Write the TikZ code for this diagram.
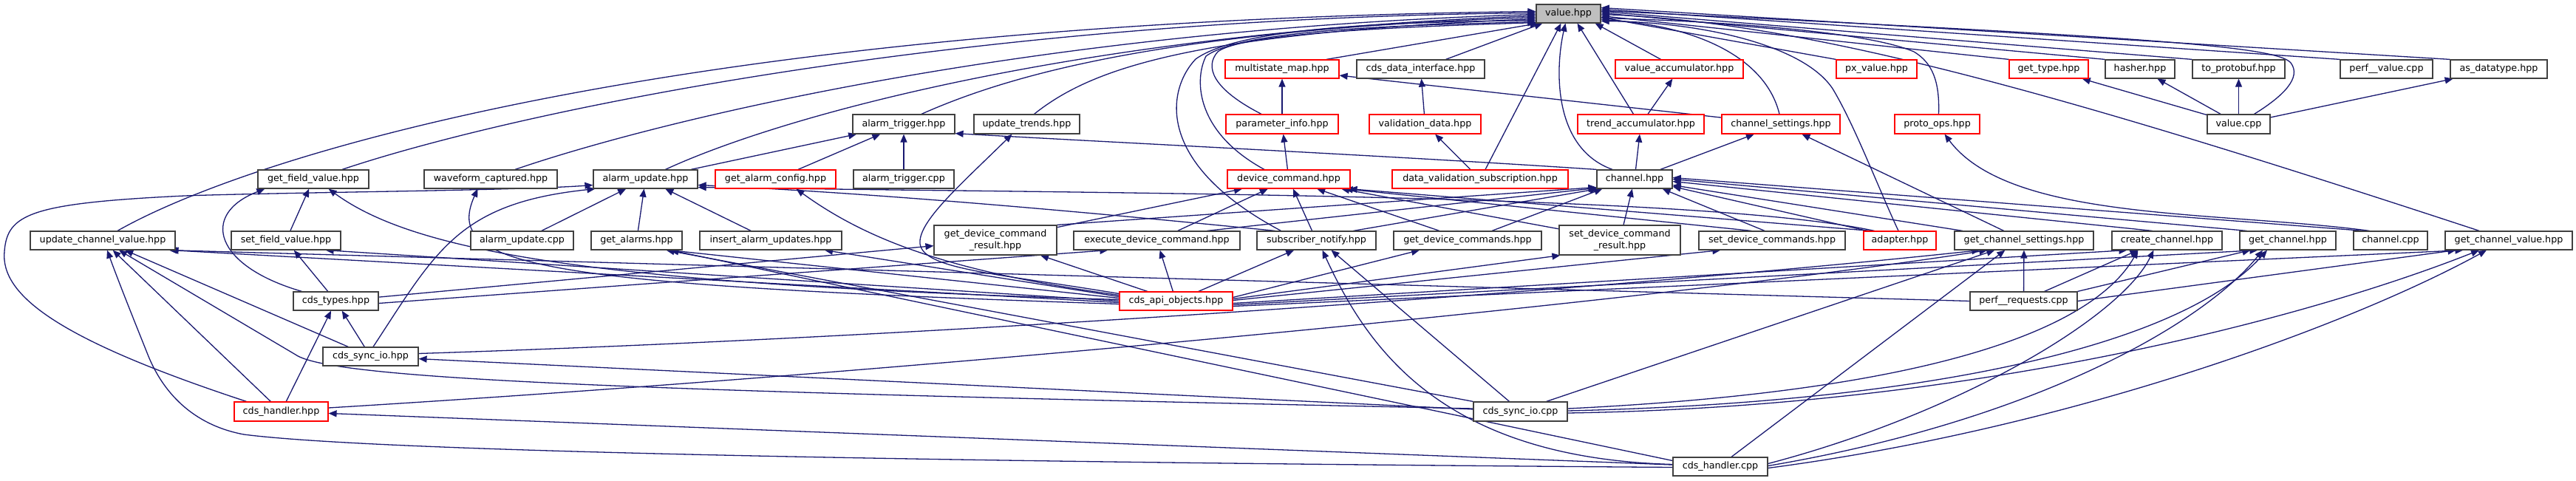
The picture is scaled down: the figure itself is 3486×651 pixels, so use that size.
\documentclass[tikz,border=0pt]{standalone}
\usepackage{fontspec}
\setmainfont{DejaVu Sans}
\usetikzlibrary{arrows.meta,calc,backgrounds}
\definecolor{eb}{RGB}{25,25,112}
\newcommand\ndf{\fontsize{6.35pt}{7.85pt}\selectfont}
\newcommand\nd[7]{\node[#7, minimum width={(#3-#2)*0.5pt}, minimum height={(#5-#4)*0.5pt}] (#1) at ({(#2+#3)/2},{(#4+#5)/2}) {#6};}
\begin{document}
\begin{tikzpicture}[x=0.5pt,y=-0.5pt,
  nb/.style={draw=black!75, fill=white, line width=0.6pt, inner sep=0pt, font=\ndf, align=center, text=black},
  nr/.style={nb, draw=red},
  ng/.style={nb, fill=black!25},
  e/.style={draw=eb, line width=0.65pt, -{Triangle[length=5.5pt,width=4.5pt]}}]
\useasboundingbox (0,0) rectangle (3486,651);
% row 0
\nd{V}{2079}{2166}{6}{31}{value.hpp}{ng}
% row 1
\nd{msm}{1658}{1812}{81}{106}{multistate\_map.hpp}{nr}
\nd{cdi}{1836}{2009}{81}{106}{cds\_data\_interface.hpp}{nb}
\nd{vacc}{2186}{2359}{81}{106}{value\_accumulator.hpp}{nr}
\nd{pxv}{2485}{2594}{81}{106}{px\_value.hpp}{nr}
\nd{gt}{2719}{2826}{81}{106}{get\_type.hpp}{nr}
\nd{hsh}{2849}{2943}{81}{106}{hasher.hpp}{nb}
\nd{tpb}{2967}{3092}{81}{106}{to\_protobuf.hpp}{nb}
\nd{pvc}{3167}{3292}{81}{106}{perf\_\_value.cpp}{nb}
\nd{asd}{3316}{3447}{81}{106}{as\_datatype.hpp}{nb}
% row 2
\nd{at}{1154}{1292}{155}{181}{alarm\_trigger.hpp}{nb}
\nd{ut}{1318}{1461}{155}{181}{update\_trends.hpp}{nb}
\nd{pi}{1659}{1811}{155}{181}{parameter\_info.hpp}{nr}
\nd{vd}{1853}{2004}{155}{181}{validation\_data.hpp}{nr}
\nd{ta}{2135}{2306}{155}{181}{trend\_accumulator.hpp}{nr}
\nd{cs}{2330}{2490}{155}{181}{channel\_settings.hpp}{nr}
\nd{po}{2564}{2679}{155}{181}{proto\_ops.hpp}{nr}
\nd{vcpp}{2987}{3072}{155}{181}{value.cpp}{nb}
% row 3
\nd{gfv}{349}{499}{230}{255}{get\_field\_value.hpp}{nb}
\nd{wc}{574}{754}{230}{255}{waveform\_captured.hpp}{nb}
\nd{au}{803}{944}{230}{255}{alarm\_update.hpp}{nb}
\nd{gac}{968}{1131}{230}{255}{get\_alarm\_config.hpp}{nr}
\nd{atc}{1155}{1291}{230}{255}{alarm\_trigger.cpp}{nb}
\nd{dc}{1661}{1827}{230}{255}{device\_command.hpp}{nr}
\nd{dvs}{1884}{2122}{230}{255}{data\_validation\_subscription.hpp}{nr}
\nd{ch}{2161}{2263}{230}{255}{channel.hpp}{nb}
% row 4
\nd{ucv}{41}{237}{313}{338}{update\_channel\_value.hpp}{nb}
\nd{sfv}{313}{461}{313}{338}{set\_field\_value.hpp}{nb}
\nd{aucpp}{637}{776}{313}{338}{alarm\_update.cpp}{nb}
\nd{ga}{800}{923}{313}{338}{get\_alarms.hpp}{nb}
\nd{iau}{947}{1139}{313}{338}{insert\_alarm\_updates.hpp}{nb}
\nd{gdcr}{1264}{1430}{305}{345}{get\_device\_command\\\_result.hpp}{nb}
\nd{edc}{1453}{1678}{313}{338}{execute\_device\_command.hpp}{nb}
\nd{sn}{1701}{1862}{313}{338}{subscriber\_notify.hpp}{nb}
\nd{gdcs}{1886}{2086}{313}{338}{get\_device\_commands.hpp}{nb}
\nd{sdcr}{2110}{2274}{305}{345}{set\_device\_command\\\_result.hpp}{nb}
\nd{sdcs}{2299}{2497}{313}{338}{set\_device\_commands.hpp}{nb}
\nd{ad}{2522}{2620}{313}{338}{adapter.hpp}{nr}
\nd{gcs}{2645}{2833}{313}{338}{get\_channel\_settings.hpp}{nb}
\nd{cc}{2858}{3007}{313}{338}{create\_channel.hpp}{nb}
\nd{gc}{3031}{3161}{313}{338}{get\_channel.hpp}{nb}
\nd{chcpp}{3185}{3285}{313}{338}{channel.cpp}{nb}
\nd{gcv}{3309}{3481}{313}{338}{get\_channel\_value.hpp}{nb}
% rows 5-8
\nd{ct}{397}{512}{395}{420}{cds\_types.hpp}{nb}
\nd{cao}{1515}{1668}{395}{420}{cds\_api\_objects.hpp}{nr}
\nd{pr}{2666}{2811}{395}{420}{perf\_\_requests.cpp}{nb}
\nd{csh}{437}{566}{470}{495}{cds\_sync\_io.hpp}{nb}
\nd{chh}{317}{444}{544}{570}{cds\_handler.hpp}{nr}
\nd{csc}{1994}{2121}{544}{570}{cds\_sync\_io.cpp}{nb}
\nd{chc}{2264}{2392}{619}{644}{cds\_handler.cpp}{nb}

\begin{scope}[on background layer]
% ---- into value.hpp from the left
\draw[e] ($(ucv.north)+(20,0)$) .. controls (330,215) and (900,30) .. ($(V.west)+(0,-3)$);
\draw[e] ($(gfv.north)+(39,0)$) .. controls (700,150) and (1300,25) .. ($(V.west)+(0,-1)$);
\draw[e] ($(wc.north)+(33,0)$) .. controls (900,160) and (1400,40) .. ($(V.west)+(0,1)$);
\draw[e] ($(au.north)+(27,0)$) .. controls (1050,160) and (1450,45) .. ($(V.west)+(0,3)$);
\draw[e] ($(at.north)+(24,0)$) .. controls (1380,95) and (1600,40) .. ($(V.west)+(0,5)$);
\draw[e] ($(ut.north)+(10,0)$) .. controls (1480,90) and (1620,45) .. ($(V.west)+(0,7)$);
\draw[e] ($(sn.north)+(-48,0)$) .. controls (1560,220) and (1580,120) .. (1618,80) .. controls (1680,35) and (1900,30) .. ($(V.west)+(0,9)$);
\draw[e] ($(dc.north)+(-33,0)$) .. controls (1620,180) and (1615,110) .. (1632,76) .. controls (1680,40) and (1900,34) .. ($(V.west)+(0,11)$);
\draw[e] ($(pi.north)+(-28,0)$) .. controls (1640,120) and (1630,90) .. (1648,70) .. controls (1680,45) and (1900,36) .. ($(V.south west)+(0,-1)$);
\draw[e] ($(msm.north)+(60,0)$) -- ($(V.south west)+(3,0)$);
\draw[e] ($(cdi.north)+(34,0)$) -- ($(V.south west)+(9,0)$);
\draw[e] ($(dvs.north)+(7,0)$) -- ($(V.south)+(-10,0)$);
\draw[e] ($(ch.north)+(-30,0)$) .. controls (2100,200) and (2105,90) .. ($(V.south)+(-4,0)$);
\draw[e] ($(ta.north)+(-10,0)$) -- ($(V.south)+(12,0)$);
\draw[e] ($(vacc.north)+(-25,0)$) -- ($(V.south east)+(-8,0)$);
% ---- into value.hpp from the right
\draw[e] ($(cs.north)+(-2,0)$) .. controls (2390,80) and (2300,35) .. ($(V.east)+(0,8)$);
\draw[e] ($(ad.north)+(-2,0)$) .. controls (2540,250) and (2510,170) .. (2480,120) .. controls (2440,60) and (2300,30) .. ($(V.east)+(0,10)$);
\draw[e] (pxv.north west) -- ($(V.east)+(0,5)$);
\draw[e] ($(po.north)+(2,0)$) .. controls (2625,110) and (2615,85) .. (2590,70) .. controls (2520,40) and (2300,28) .. ($(V.east)+(0,6)$);
\draw[e] (gt.north west) -- ($(V.east)+(0,3)$);
\draw[e] ($(gcv.north)+(-40,0)$) .. controls (2800,130) and (2450,30) .. ($(V.east)+(0,1)$);
\draw[e] (hsh.north west) -- ($(V.east)+(0,-1)$);
\draw[e] (tpb.north west) -- ($(V.east)+(0,-3)$);
\draw[e] ($(vcpp.north)+(21,0)$) .. controls (3090,130) and (3115,105) .. (3100,85) .. controls (3080,62) and (2900,50) .. ($(V.east)+(0,-4)$);
\draw[e] (pvc.north west) -- ($(V.east)+(0,-6)$);
\draw[e] (asd.north west) -- ($(V.east)+(0,-8)$);
% ---- upper structure
\draw[e] (pi) -- (msm);
\draw[e] (cs) -- (msm);
\draw[e] (dc) -- (pi);
\draw[e] (vd) -- (cdi);
\draw[e] (dvs) -- (vd);
\draw[e] (ta) -- (vacc);
\draw[e] (ch) -- (ta);
\draw[e] (ch) -- (cs);
\draw[e] (ch.north west) .. controls (1900,212) and (1550,195) .. ($(at.south east)+(0,-1)$);
\draw[e] (au) -- (at);
\draw[e] (gac) -- (at);
\draw[e] (atc) -- (at);
\draw[e] (gcs) -- (cs);
\draw[e] ($(chcpp.north west)+(22,0)$) .. controls (3000,285) and (2720,300) .. ($(po.south)+(10,0)$);
\draw[e] (vcpp) -- (gt);
\draw[e] (vcpp) -- (hsh);
\draw[e] (vcpp) -- (tpb);
\draw[e] (vcpp) -- (asd);
% ---- alarm_update
\draw[e] (aucpp) -- (au);
\draw[e] (ga) -- (au);
\draw[e] (iau) -- (au);
\draw[e] ($(chh.north)+(-47,0)$) .. controls (80,460) and (0,400) .. (6,340) .. controls (10,290) and (40,275) .. (250,265) .. controls (400,260) and (700,258) .. ($(au.west)+(0,8)$);
\draw[e] ($(csh.north)+(3.5,0)$) .. controls (590,340) and (620,275) .. ($(au.south west)+(3,0)$);
\draw[e] ($(sn.north)+(-56,0)$) .. controls (1500,290) and (1200,262) .. ($(au.east)+(0,8)$);
\draw[e] ($(ad.north west)+(15,0)$) .. controls (2300,262) and (1500,262) .. ($(au.east)+(0,11)$);
% ---- device_command
\draw[e] (gdcr) -- (dc);
\draw[e] (edc) -- (dc);
\draw[e] (sn) -- (dc);
\draw[e] (gdcs) -- (dc);
\draw[e] (sdcr) -- (dc);
\draw[e] ($(sdcs.north)+(-28,0)$) -- ($(dc.south east)+(-8,0)$);
\draw[e] ($(ad.north west)+(10,0)$) -- ($(dc.south east)+(-2,0)$);
% ---- channel
\draw[e] (gdcr.north east) -- ($(ch.west)+(0,11)$);
\draw[e] ($(edc.north)+(68,0)$) -- ($(ch.west)+(0,12)$);
\draw[e] ($(sn.north)+(50,0)$) -- ($(ch.south west)+(2,0)$);
\draw[e] ($(gdcs.north)+(33,0)$) -- ($(ch.south west)+(8,0)$);
\draw[e] (sdcr) -- (ch);
\draw[e] ($(sdcs.north)+(-10,0)$) -- ($(ch.south east)+(-14,0)$);
\draw[e] ($(ad.north west)+(5,0)$) -- ($(ch.east)+(0,10)$);
\draw[e] (gcs) -- (ch);
\draw[e] ($(cc.north)+(-20,0)$) -- ($(ch.east)+(0,3)$);
\draw[e] ($(gc.north west)+(10,0)$) -- ($(ch.east)+(0,0)$);
\draw[e] ($(chcpp.north west)+(14,0)$) -- ($(ch.east)+(0,-2)$);
% ---- update_trends / get_alarm_config
\draw[e] ($(cao.west)+(0,-10)$) .. controls (1350,370) and (1250,365) .. (1245,330) .. controls (1242,300) and (1300,250) .. ($(ut.south)+(-20,0)$);
\draw[e] ($(cao.west)+(0,-8)$) .. controls (1300,370) and (1180,330) .. ($(gac.south)+(28,0)$);
% ---- cds_types
\draw[e] (csh) -- (ct);
\draw[e] (chh) -- (ct);
\draw[e] ($(ct.north west)+(12,0)$) .. controls (290,360) and (270,290) .. ($(gfv.south west)+(10,0)$);
\draw[e] (ct) -- (sfv);
\draw[e] (ct) -- (gdcr);
\draw[e] ($(ct.east)+(0,3)$) -- ($(edc.south west)+(47,0)$);
\draw[e] (sfv) -- (gfv);
% ---- cds_api_objects
\draw[e] (cao) -- (gdcr);
\draw[e] (cao) -- (edc);
\draw[e] (cao) -- (sn);
\draw[e] ($(cao.east)+(0,-5)$) -- ($(gdcs.south)+(-65,0)$);
\draw[e] ($(cao.east)+(0,-3)$) -- ($(sdcr.south west)+(2,0)$);
\draw[e] ($(cao.east)+(0,-1)$) -- ($(sdcs.south west)+(30,0)$);
\draw[e] ($(cao.east)+(0,3)$) -- ($(cc.south west)+(21,0)$);
\draw[e] ($(cao.east)+(0,5)$) -- ($(gc.south west)+(25,0)$);
\draw[e] ($(cao.east)+(0,7)$) -- ($(gcv.south west)+(25,0)$);
\draw[e] ($(cao.west)+(0,-6)$) -- ($(iau.south)+(73,0)$);
\draw[e] ($(cao.west)+(0,-4)$) -- ($(ga.south)+(44,0)$);
\draw[e] ($(cao.west)+(0,-2)$) .. controls (800,385) and (560,340) .. ($(gfv.south east)+(-55,0)$);
\draw[e] ($(cao.west)+(0,0)$) -- ($(sfv.south east)+(-21,0)$);
\draw[e] ($(cao.west)+(0,2)$) -- ($(ucv.south east)+(-7,0)$);
\draw[e] ($(cao.west)+(0,4)$) .. controls (720,385) and (600,360) .. ($(wc.south west)+(73,0)$);
% ---- long rising lines to get_channel_settings
\draw[e] ($(csh.east)+(0,-4)$) .. controls (1300,455) and (2200,390) .. ($(gcs.south west)+(35,0)$);
\draw[e] ($(chh.east)+(0,-5)$) .. controls (1300,500) and (2300,400) .. ($(gcs.south west)+(45,0)$);
% ---- perf__requests
\draw[e] (pr) -- (gcs);
\draw[e] ($(pr.north east)+(-45,0)$) -- ($(cc.south west)+(36,0)$);
\draw[e] (pr.north east) -- ($(gc.south west)+(15,0)$);
\draw[e] (pr.east) -- ($(gcv.south west)+(15,0)$);
\draw[e] (pr.west) -- ($(ucv.south east)+(-9,0)$);
% ---- update_channel_value from below
\draw[e] (chh) -- (ucv);
\draw[e] (csh) -- (ucv);
% ---- cds_sync_io.cpp
\draw[e] (csc) -- (csh);
\draw[e] ($(csc.west)+(0,-4)$) .. controls (900,530) and (450,515) .. (400,480) -- ($(ucv.south)+(22,0)$);
\draw[e] ($(csc.north)+(-15,0)$) -- ($(sn.south)+(20,0)$);
\draw[e] (csc.north west) -- ($(ga.south)+(40,0)$);
\draw[e] ($(csc.north east)+(-29,0)$) -- ($(gcs.south west)+(55,0)$);
\draw[e] ($(csc.east)+(0,-4)$) .. controls (2600,530) and (2830,450) .. ($(cc.south west)+(36,0)$);
\draw[e] ($(csc.east)+(0,-1)$) .. controls (2600,545) and (2950,470) .. ($(gc.south)+(-28,0)$);
\draw[e] ($(csc.east)+(0,2)$) .. controls (2700,550) and (3150,420) .. ($(gcv.south)+(-40,0)$);
% ---- cds_handler.cpp
\draw[e] (chc) -- (chh);
\draw[e] ($(chc.west)+(0,1)$) .. controls (1200,625) and (500,610) .. (330,588) .. controls (260,575) and (220,530) .. (200,480) .. controls (180,430) and (160,380) .. ($(ucv.south)+(6,0)$);
\draw[e] ($(chc.west)+(0,-3)$) .. controls (1950,620) and (1850,470) .. ($(sn.south)+(8,0)$);
\draw[e] ($(chc.west)+(0,-8)$) -- ($(ga.south)+(46,0)$);
\draw[e] ($(chc.north)+(15,0)$) -- ($(gcs.south west)+(69,0)$);
\draw[e] ($(chc.east)+(0,-4)$) .. controls (2650,560) and (2870,430) .. ($(cc.south west)+(57,0)$);
\draw[e] ($(chc.east)+(0,-1)$) .. controls (2750,570) and (2980,440) .. ($(gc.south)+(-34,0)$);
\draw[e] ($(chc.east)+(0,2)$) .. controls (2800,580) and (3180,440) .. ($(gcv.south)+(-30,0)$);
\end{scope}
\end{tikzpicture}
\end{document}
